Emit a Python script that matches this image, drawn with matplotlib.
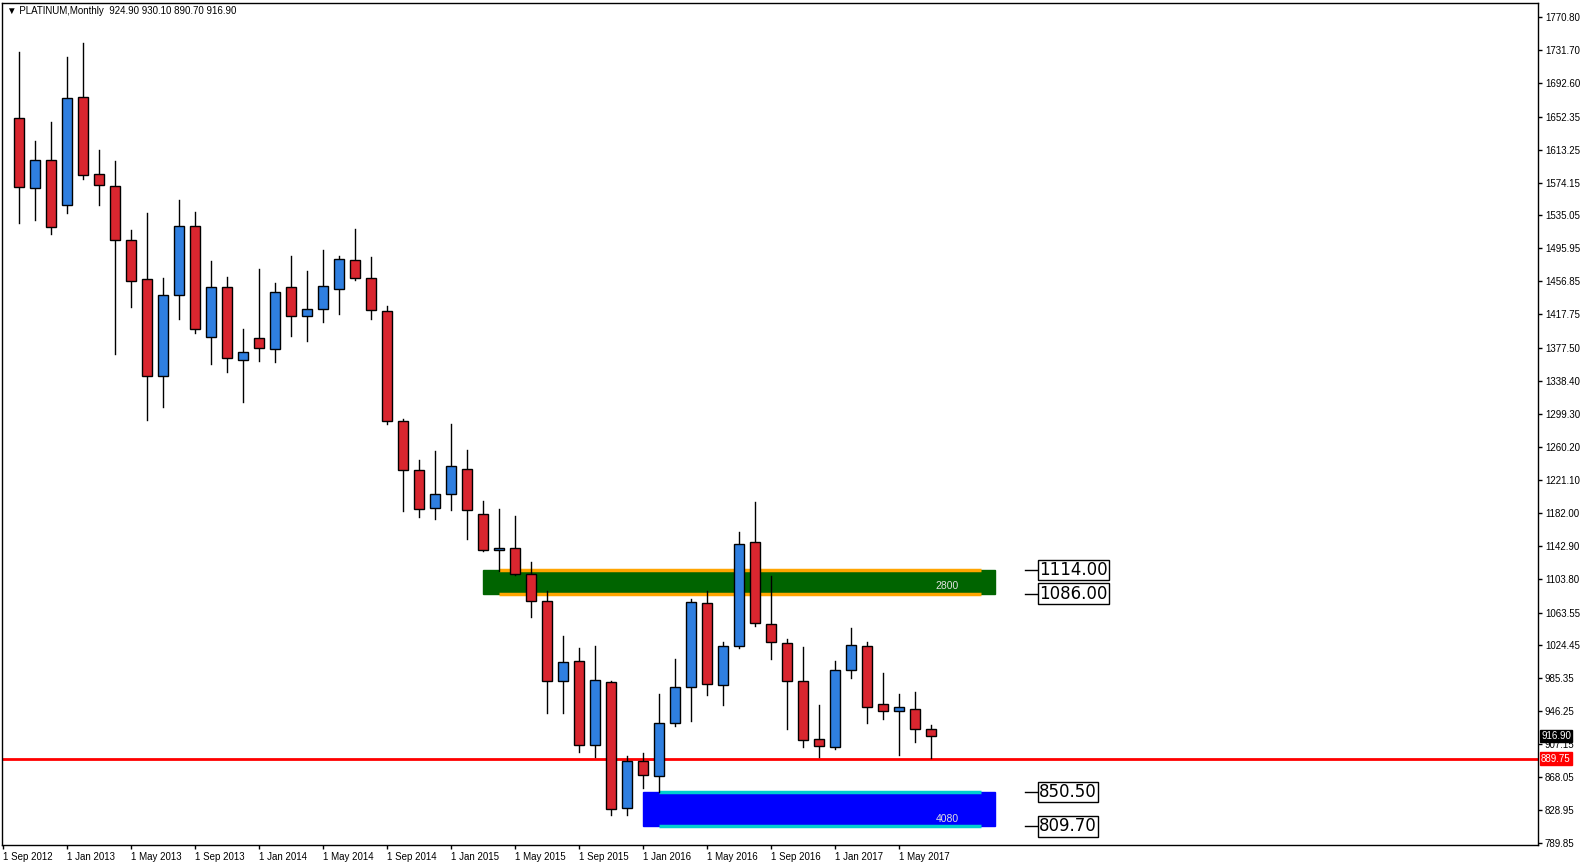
import matplotlib
matplotlib.use("Agg")
import matplotlib.pyplot as plt
from matplotlib.patches import Rectangle

plt.rcParams['font.family'] = ['Liberation Sans', 'DejaVu Sans']

opens  = [1650.6,1567.5,1600.7,1547.3,1675.5,1584.1,1569.8,1505.7,1459.4,1344.2,1440.4,1522.3,
          1390.5,1449.9,1363.2,1389.3,1376.3,1449.9,1415.5,1423.8,1447.5,1482.0,1460.6,1421.4,
          1291.6,1233.3,1187.8,1204.7,1234.6,1180.9,1138.2,1140.6,1109.5,1077.6,982.3,1006.2,
          906.3,981.2,831.5,887.7,869.5,932.2,975.1,1075.0,977.6,1023.9,1147.7,1049.7,
          1027.1,982.0,913.1,903.6,995.0,1023.5,954.7,946.4,948.7,924.9]
highs  = [1729.3,1623.6,1646.2,1723.4,1740.0,1613.0,1599.9,1517.9,1538.1,1460.9,1553.6,1539.3,
          1481.1,1462.1,1400.4,1471.6,1455.4,1487.1,1469.3,1494.2,1487.1,1519.1,1485.9,1427.3,
          1292.9,1244.4,1255.2,1287.3,1256.2,1195.6,1186.1,1177.9,1123.0,1089.7,1036.0,1021.8,
          1024.4,982.8,893.3,897.2,967.3,1008.8,1079.2,1089.7,1029.1,1158.8,1194.7,1107.0,
          1032.2,1023.1,953.8,1006.1,1045.6,1028.3,991.8,966.9,969.3,930.1]
lows   = [1526.6,1529.8,1513.6,1538.5,1578.9,1548.0,1371.0,1426.9,1292.7,1308.1,1412.6,1396.0,
          1359.2,1349.7,1314.0,1362.7,1360.8,1392.4,1386.5,1409.0,1418.5,1458.2,1411.9,1287.8,
          1184.4,1177.0,1174.9,1185.2,1151.1,1136.7,1112.6,1108.2,1058.1,943.9,943.9,897.7,
          892.1,823.7,823.7,855.3,851.0,928.3,935.3,965.6,953.5,1021.8,1047.7,1008.8,
          925.7,904.3,892.4,901.9,986.3,932.8,937.2,894.4,910.2,890.7]
closes = [1568.7,1600.7,1521.2,1674.4,1582.9,1571.0,1505.7,1457.0,1344.2,1440.4,1522.3,1400.0,
          1449.9,1365.6,1372.7,1377.5,1444.0,1415.5,1423.8,1451.1,1483.2,1460.6,1422.6,1291.6,
          1233.3,1187.0,1204.7,1238.0,1184.8,1138.2,1140.6,1109.5,1077.6,982.3,1004.9,906.3,
          983.3,830.2,887.7,870.3,932.2,975.1,1076.3,978.5,1023.9,1145.4,1050.6,1028.3,
          982.0,911.9,904.8,995.0,1024.7,951.1,946.4,951.1,925.0,916.9]

ytick_vals = [1770.80,1731.70,1692.60,1652.35,1613.25,1574.15,1535.05,1495.95,1456.85,1417.75,
              1377.50,1338.40,1299.30,1260.20,1221.10,1182.00,1142.90,1103.80,1063.55,1024.45,
              985.35,946.25,907.15,868.05,828.95,789.85]
date_idx = list(range(-1, 58, 4))
date_labels = ["1 Sep 2012","1 Jan 2013","1 May 2013","1 Sep 2013","1 Jan 2014","1 May 2014",
               "1 Sep 2014","1 Jan 2015","1 May 2015","1 Sep 2015","1 Jan 2016","1 May 2016",
               "1 Sep 2016","1 Jan 2017","1 May 2017"]
resist_lo, resist_hi = 1086.00, 1114.00
support_lo, support_hi = 809.70, 850.50
red_level = 889.75
last_price = 916.90

W, H = 1584, 866
fig = plt.figure(figsize=(W/100, H/100), dpi=100)
L, R, T, B = 2, 1538, 3, 845
ax = fig.add_axes([L/W, (H-B)/H, (R-L)/W, (B-T)/H])
ax.set_xlim((L-19)/16, (R-19)/16)
ax.set_ylim(787.5, 1787.4)

ax.add_patch(Rectangle((29, resist_lo), 32, resist_hi-resist_lo, color="#006400", zorder=1))
ax.hlines([resist_lo, resist_hi], 30, 60.1, color="#FFA500", lw=2.5, zorder=3)
ax.text(58, resist_lo+3, "2800", color="#E0E0E0", fontsize=7.5, ha="center", va="bottom", zorder=4)
ax.add_patch(Rectangle((39, support_lo), 22, support_hi-support_lo, color="#0000FF", zorder=1))
ax.hlines([support_lo, support_hi], 40, 60.1, color="#00CED1", lw=2.5, zorder=3)
ax.text(58, support_lo+3, "4080", color="#E0E0E0", fontsize=7.5, ha="center", va="bottom", zorder=4)

for v in [resist_hi, resist_lo, support_hi, support_lo]:
    ax.plot([62.9, 63.7], [v, v], color="black", lw=1, zorder=4)
    ax.text(63.75, v, f"{v:.2f}", fontsize=12, va="center", ha="left", zorder=5,
            family=['DejaVu Sans'],
            bbox=dict(boxstyle="square,pad=0.08", fc="white", ec="black", lw=1))

ax.axhline(red_level, color="#FF0000", lw=2, zorder=2)

bw = 0.62
for i in range(len(opens)):
    o, h, l, c = opens[i], highs[i], lows[i], closes[i]
    col = "#2F7FE0" if c >= o else "#D9262F"
    ax.plot([i, i], [l, h], color="black", lw=1, zorder=5)
    ax.add_patch(Rectangle((i-bw/2, min(o, c)), bw, max(abs(c-o), 0.8), fc=col, ec="black",
                           lw=1, zorder=6))

ax.yaxis.tick_right()
ax.set_yticks(ytick_vals)
ax.set_yticklabels([f"{v:.2f}" for v in ytick_vals], fontsize=7)
ax.set_xticks(date_idx)
ax.set_xticklabels(date_labels, fontsize=7, ha="left")
ax.tick_params(axis="both", length=3, width=1, pad=2)
for s in ax.spines.values():
    s.set_linewidth(1)

ax.text(1.002, last_price, f"{last_price:.2f}", transform=ax.get_yaxis_transform(), fontsize=7,
        color="white", va="center", ha="left", zorder=10,
        bbox=dict(boxstyle="square,pad=0.15", fc="black", ec="black"))
ax.text(1.002, red_level, f"{red_level:.2f}", transform=ax.get_yaxis_transform(), fontsize=7,
        color="white", va="center", ha="left", zorder=10,
        bbox=dict(boxstyle="square,pad=0.15", fc="#FF0000", ec="#FF0000"))

ax.text(0.003, 0.997, "▼ PLATINUM,Monthly  924.90 930.10 890.70 916.90", transform=ax.transAxes,
        fontsize=7, va="top", ha="left")

fig.savefig("out.png", dpi=100)
